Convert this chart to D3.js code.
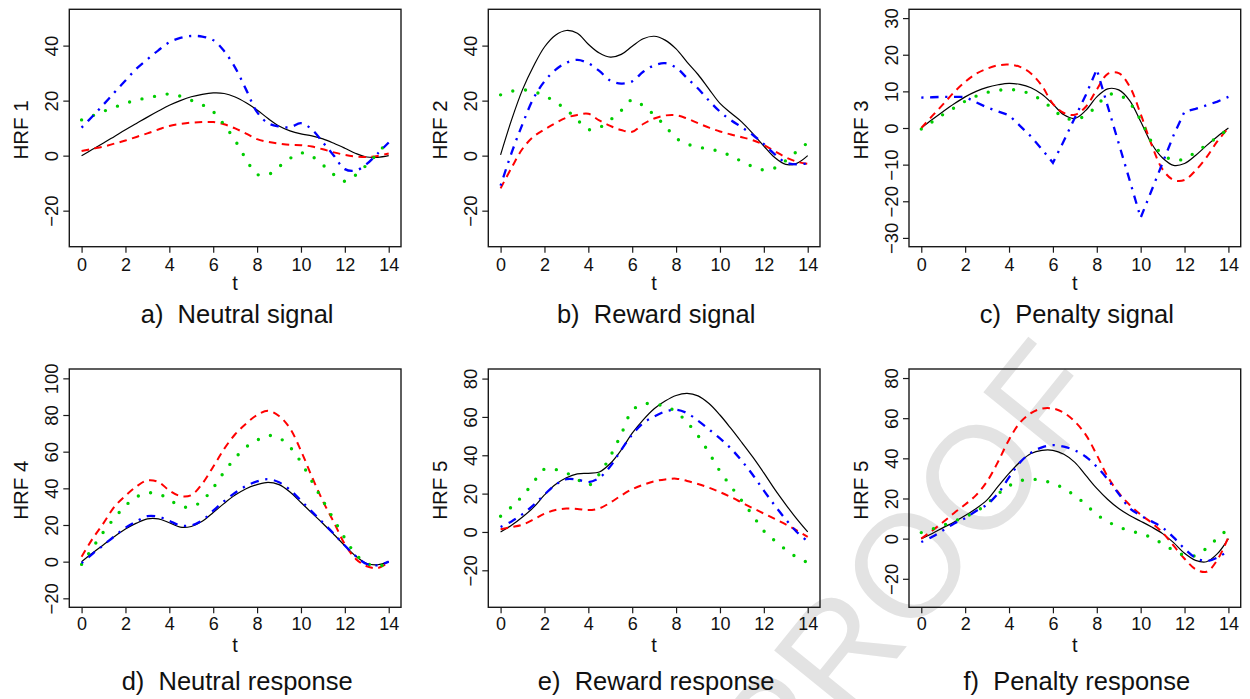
<!DOCTYPE html>
<html lang="en">
<head>
<meta charset="utf-8">
<title>HRF estimates</title>
<script src="https://d3js.org/d3.v7.min.js"></script>
<style>
  body { margin: 0; background: #fff; }
  svg text { font-family: "Liberation Sans", Arial, Helvetica, sans-serif; fill: #111; }
</style>
</head>
<body>
<script>
// time grid (seconds)
var tGrid = [0,0.5,1,1.5,2,2.5,3,3.5,4,4.5,5,5.5,6,6.5,7,7.5,8,8.5,9,9.5,10,10.5,11,11.5,12,12.5,13,13.5,14];
var xTicks = [0,2,4,6,8,10,12,14];

// a) Neutral signal
var aSolid   = [0,2.3,4.6,7.0,9.4,11.7,14.0,16.2,18.3,20.0,21.4,22.3,22.8,22.6,21.3,19.2,16.6,13.5,10.8,9.0,7.9,7.2,6.1,4.5,2.7,0.8,-0.5,-0.6,0];
var aDashed  = [1.7,2.5,3.3,4.4,5.5,6.8,8.1,9.5,10.8,11.5,12.0,12.2,12.2,11.4,9.9,8.0,6.0,5.0,4.4,3.9,3.8,3.3,2.3,1.2,0.3,-0.3,-0.5,-0.1,0.8];
var aDotted  = [13.0,14.5,16.1,17.6,19.0,20.2,21.0,21.8,22.4,21.6,20.1,18.5,16.0,11.2,5.5,-1.3,-6.8,-6.9,-4.0,-1.0,1.0,-0.3,-3.4,-6.9,-9.3,-7.0,-3.3,0.9,5.5];
var aDotDash = [10.2,14.3,18.6,23.0,27.3,31.6,35.0,38.3,41.2,42.8,43.5,43.3,42.0,38.0,32.0,24.0,15.8,11.8,10.6,10.3,11.8,9.5,4.8,0.0,-4.9,-5.4,-3.0,0.8,4.8];

// b) Reward signal
var bSolid   = [0.3,13,24,32.5,39.5,43.8,45.5,44.5,40.5,37.3,35.8,36.8,39.8,42.5,43.4,42,38.8,34,29.5,24.2,19,15.5,12.2,8,3.5,-0.7,-3.2,-2.8,0];
var bDashed  = [-11.9,-4.4,2.5,6.9,9.5,11.8,13.8,14.8,15.2,12.8,10.8,9.3,8.7,11.5,13.5,14.6,14.7,13.5,11.8,10.2,8.8,7.7,6.7,5.6,3.9,1.6,-0.6,-2.2,-3];
var bDotted  = [22.1,23.4,23.9,23.3,21.8,19.5,16.7,13,9.5,10.2,13,16.4,20.3,18.1,14.8,10.8,6.4,4.2,3.2,2.3,1.6,-0.2,-2.1,-4,-5.2,-4.5,-1.8,1.5,4.7];
var bDotDash = [-10.9,1,11.5,20.8,27,31.2,33.8,34.8,33.6,30.8,27.3,26.2,27,30.5,32.8,33.6,32,28.2,24.4,20,16,12.9,10.3,7.5,4.2,0.5,-2.5,-3.2,-2.8];

// c) Penalty signal
var cSolid   = [0,2.3,4.5,6.6,8.5,10,11.1,11.8,12.2,11.9,11,9.2,6.5,3.6,2.6,4.8,8.5,10.7,10.4,7.5,1.8,-4.3,-8.2,-10.2,-9.7,-7.5,-4.8,-2.3,0];
var cDashed  = [0,3.3,6.5,9.8,12.6,14.8,16.2,17.1,17.3,16.7,14.9,11.5,6.6,4.1,3.6,5.8,10.5,14.8,15,11.3,3.8,-4.6,-11.3,-14.2,-14.2,-11.6,-8,-3.6,0];
var cDotted  = [-0.3,1.7,3.7,5.5,7.3,8.7,9.7,10.3,10.5,10.2,9.2,7.5,5.2,2.8,2.4,3.4,6.1,9,9.1,6.8,2.2,-3.8,-7.2,-8.8,-8.4,-6.6,-4.6,-2.5,-0.3];
var cDotDash = [8.3,8.4,8.5,8.5,8.5,7,5.6,4.5,3.5,0.6,-2.3,-5.8,-9.5,-3.5,2.8,9.0,16,5.9,-4.2,-14.3,-24.5,-17,-9.5,-2,4.5,5.2,6.2,7.2,8.5];

// d) Neutral response
var dSolid   = [0,4.7,9.2,13.7,17.8,21,23.3,23.3,21.2,18.8,19.2,22,26.8,31.8,36.3,39.8,42,43.3,42,38,32.3,26.5,20.8,14.8,8.7,3,-1,-1.7,0];
var dDashed  = [2.7,12.5,21,30,36,41,44.3,43.5,38.8,35.8,36.3,42.5,51.8,61.5,69.5,75.3,80,82.3,79.5,72.7,60.5,46.3,33,21.5,9.5,1.5,-2.5,-3.5,-0.4];
var dDotted  = [-1.5,7.5,16.2,23.8,30.5,35.3,37.5,37,33.8,30.3,29.8,33.3,40.3,49,56.5,62.5,66.3,68.8,67.5,62.5,54.3,43.8,33.3,23,12.8,4,-1,-2.2,-1.5];
var dDotDash = [-0.8,4.3,9,13.9,18.5,22,24.8,24.5,22.2,19.8,19.8,22.5,27.8,33,37.6,41.3,43.8,45,43.3,39.2,33.3,27.3,21.3,15.2,8.8,3,-1.3,-2,0];

// e) Reward response
var eSolid   = [0,3.5,7.8,12.8,19.3,24.8,28.3,30.3,30.6,31.3,35.7,42.8,51.5,58.5,64.3,68.3,71.2,72.3,71,67,61,54,46.6,39,30.8,22.2,14.3,6.8,0];
var eDashed  = [1.4,2.5,3.8,6.5,9.5,11.5,12.2,12,11.4,12.3,15.3,19,22.3,24.6,26.4,27.4,27.8,26.6,25,23.1,20.8,18.2,15.3,12.4,9.6,6.8,3.9,0.8,-2.6];
var eDotted  = [8.2,13.1,18.8,25.9,32.8,32.6,30.8,27.5,24.3,30.2,39.5,51,63.3,66.8,66.6,65.6,62.6,57.2,50.2,41.3,31.7,23.8,16.2,8.6,0.5,-4.6,-9.2,-13.2,-16];
var eDotDash = [2.6,5.5,9.3,14,19.5,24.6,27.5,27.3,26,28.2,34.2,42.8,50.8,56.8,60.2,62.8,63.8,62,58,53.5,48.8,43.5,37,29.7,21.6,13.8,6.5,0,-5];

// f) Penalty response
var fSolid   = [0,2.6,5.5,8.3,11.5,15,19.3,26,32.5,38.2,42.4,44,44,42,38,31.5,25,19.5,15,11.5,8.7,5.8,2.5,-2,-7.3,-10.8,-11.5,-7.5,0];
var fDashed  = [0,4,8.3,12.8,17,21.7,28.5,38.3,49.3,57.8,62.5,64.8,64.8,62.7,58.3,51.7,41.7,30.8,22.8,16.8,12,7.9,3,-3.5,-10,-15.2,-16.5,-10.5,0.8];
var fDotted  = [3,4.8,6.6,8.7,10.9,13.5,17.5,22.3,26.3,28.8,29.6,29,27.5,25,21.4,17,12,8.5,5.8,4,2.5,0.5,-2.6,-5.8,-8.3,-8.5,-4.8,0.2,5];
var fDotDash = [-1.7,0.9,4.2,7.5,10.2,13.8,17,22.5,30.5,38,42.8,45.5,46.6,45.8,44,40.8,35.8,29.5,22.3,15.2,11.5,8.6,5.5,0.6,-5,-9.5,-11.2,-9.4,-6];

var yLabels  = ["HRF 1","HRF 2","HRF 3","HRF 4","HRF 5","HRF 5"];
var captions = ["a)  Neutral signal","b)  Reward signal","c)  Penalty signal",
                "d)  Neutral response","e)  Reward response","f)  Penalty response"];
var yTicksA = [-20,0,20,40];
var yTicksC = [-30,-20,-10,0,10,20,30];
var yTicksD = [-20,0,20,40,60,80,100];
var yTicksE = [-20,0,20,40,60,80];

var width = 1250, height = 699;
var svg = d3.select("body").append("svg")
    .attr("width", width)
    .attr("height", height);

// watermark behind everything
svg.append("text")
    .attr("transform", "translate(906,564) rotate(-51)")
    .attr("text-anchor", "middle")
    .attr("dy", "0.36em")
    .style("font-size", "146px")
    .style("fill", "#e3e3e3")
    .text("PROOF");

var cols = [{l: 69.3, r: 401}, {l: 488.3, r: 820}, {l: 909, r: 1240.7}];
var rows = [{t: 9.3, b: 246.7, tick: 25, tl: 43, cap: 76},
            {t: 369, b: 607.3, tick: 23, tl: 44.5, cap: 83}];

var panels = [
  {c:0, r:0, y:[-33.1,53.2], ticks:yTicksA, s:[aSolid,aDashed,aDotted,aDotDash]},
  {c:1, r:0, y:[-33.1,53.2], ticks:yTicksA, s:[bSolid,bDashed,bDotted,bDotDash]},
  {c:2, r:0, y:[-32.4,32.4], ticks:yTicksC, s:[cSolid,cDashed,cDotted,cDotDash], sharp:true},
  {c:0, r:1, y:[-24.9,105.1], ticks:yTicksD, s:[dSolid,dDashed,dDotted,dDotDash]},
  {c:1, r:1, y:[-39.3,85], ticks:yTicksE, s:[eSolid,eDashed,eDotted,eDotDash]},
  {c:2, r:1, y:[-34.2,84.5], ticks:yTicksE, s:[fSolid,fDashed,fDotted,fDotDash]}
];

// solid black, red dashed, green dotted, blue dot-dash
var styles = [
  {color: "#000000", w: 1.2, dash: null, cap: "butt"},
  {color: "#ff0000", w: 2,   dash: "7.5,5.5", cap: "butt"},
  {color: "#00cd00", w: 3.4, dash: "0,12.8", cap: "round"},
  {color: "#0000ff", w: 2.3, dash: "2.2,6.6,8.5,6.6", cap: "butt"}
];

panels.forEach(function(p, i) {
  var col = cols[p.c], row = rows[p.r];
  var g = svg.append("g");

  var x = d3.scaleLinear().domain([-0.56, 14.56]).range([col.l, col.r]);
  var y = d3.scaleLinear().domain(p.y).range([row.b, row.t]);

  // curves
  p.s.forEach(function(vals, k) {
    var st = styles[k];
    var curve = (p.sharp && k === 3) ? d3.curveLinear : d3.curveCatmullRom.alpha(0.5);
    var line = d3.line()
        .x(function(d, j) { return x(tGrid[j]); })
        .y(function(d) { return y(d); })
        .curve(curve);
    g.append("path")
        .datum(vals)
        .attr("d", line)
        .attr("fill", "none")
        .attr("stroke", st.color)
        .attr("stroke-width", st.w)
        .attr("stroke-linecap", st.cap)
        .attr("stroke-dasharray", st.dash);
  });

  // box
  g.append("rect")
      .attr("x", col.l).attr("y", row.t)
      .attr("width", col.r - col.l).attr("height", row.b - row.t)
      .attr("fill", "none")
      .attr("stroke", "#1a1a1a")
      .attr("stroke-width", 1.4);

  // x axis
  var xa = g.append("g")
      .attr("transform", "translate(0," + row.b + ")")
      .call(d3.axisBottom(x).tickValues(xTicks).tickSize(6).tickPadding(row.tick - 19));
  xa.select(".domain").remove();
  xa.selectAll("line").attr("stroke", "#1a1a1a").attr("stroke-width", 1.2);
  xa.selectAll("text").style("font-size", "18px").attr("fill", "#111");

  // y axis, labels parallel to axis
  var ya = g.append("g")
      .attr("transform", "translate(" + col.l + ",0)")
      .call(d3.axisLeft(y).tickValues(p.ticks).tickSize(6));
  ya.select(".domain").remove();
  ya.selectAll("line").attr("stroke", "#1a1a1a").attr("stroke-width", 1.2);
  ya.selectAll("text")
      .attr("transform", "rotate(-90)")
      .attr("x", 0).attr("y", -11).attr("dy", null)
      .attr("text-anchor", "middle")
      .style("font-size", "18.5px")
      .attr("fill", "#111");

  // axis titles
  g.append("text")
      .attr("transform", "translate(" + (col.l - 41) + "," + ((row.t + row.b) / 2 + 2) + ") rotate(-90)")
      .attr("text-anchor", "middle")
      .style("font-size", "20.5px")
      .text(yLabels[i]);

  g.append("text")
      .attr("x", (col.l + col.r) / 2)
      .attr("y", row.b + row.tl)
      .attr("text-anchor", "middle")
      .style("font-size", "20px")
      .text("t");

  g.append("text")
      .attr("x", (col.l + col.r) / 2 + 2)
      .attr("y", row.b + row.cap)
      .attr("text-anchor", "middle")
      .style("font-size", "25.5px")
      .style("white-space", "pre")
      .text(captions[i]);
});
</script>
</body>
</html>
